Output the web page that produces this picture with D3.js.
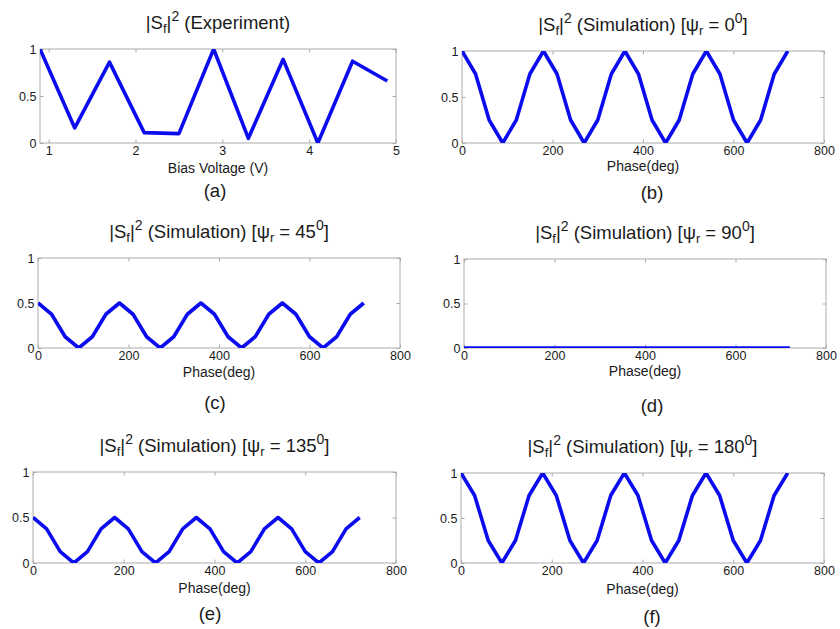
<!DOCTYPE html>
<html>
<head>
<meta charset="utf-8">
<script src="https://cdn.jsdelivr.net/npm/d3@7"></script>
<style>
  body { margin: 0; background: #fff; }
  text { font-family: "Liberation Sans", Arial, sans-serif; fill: #1a1a1a; }
</style>
</head>
<body>
<svg id="chart" width="840" height="629"></svg>
<script>
// data
var voltage = [0.9, 1.3, 1.7, 2.1, 2.5, 2.9, 3.3, 3.7, 4.1, 4.5, 4.9];
var experiment = [1.0, 0.16, 0.86, 0.11, 0.10, 1.0, 0.05, 0.89, 0.0, 0.87, 0.66];

var phase = [0, 30, 60, 90, 120, 150, 180, 210, 240, 270, 300, 330, 360,
             390, 420, 450, 480, 510, 540, 570, 600, 630, 660, 690, 720];
var sim0 = [1, 0.75, 0.25, 0, 0.25, 0.75, 1, 0.75, 0.25, 0, 0.25, 0.75, 1,
            0.75, 0.25, 0, 0.25, 0.75, 1, 0.75, 0.25, 0, 0.25, 0.75, 1];
var sim45 = [0.5, 0.375, 0.125, 0, 0.125, 0.375, 0.5, 0.375, 0.125, 0, 0.125, 0.375, 0.5,
             0.375, 0.125, 0, 0.125, 0.375, 0.5, 0.375, 0.125, 0, 0.125, 0.375, 0.5];
var sim90 = [0, 0, 0, 0, 0, 0, 0, 0, 0, 0, 0, 0, 0,
             0, 0, 0, 0, 0, 0, 0, 0, 0, 0, 0, 0];
var sim135 = [0.5, 0.375, 0.125, 0, 0.125, 0.375, 0.5, 0.375, 0.125, 0, 0.125, 0.375, 0.5,
              0.375, 0.125, 0, 0.125, 0.375, 0.5, 0.375, 0.125, 0, 0.125, 0.375, 0.5];
var sim180 = [1, 0.75, 0.25, 0, 0.25, 0.75, 1, 0.75, 0.25, 0, 0.25, 0.75, 1,
              0.75, 0.25, 0, 0.25, 0.75, 1, 0.75, 0.25, 0, 0.25, 0.75, 1];

var voltTicks = [1, 2, 3, 4, 5];
var phaseTicks = [0, 200, 400, 600, 800];
var yTicks = [0, 0.5, 1];
var psiLabels = ['0', '45', '90', '135', '180'];
var panelNames = ['(a)', '(b)', '(c)', '(d)', '(e)', '(f)'];

var svg = d3.select('#chart');
var lineColor = '#0b0bf0';
var boxColor = '#ababab';

// one entry per subplot: box corners + a few text offsets
var panels = [
  { x: voltage, y: experiment, xDomain: [0.9, 5], xTicks: voltTicks, xLabel: 'Bias Voltage (V)',
    l: 40, t: 49, r: 396, b: 143, labX: 215, labY: 197, axY: 30, title: null },
  { x: phase, y: sim0, xDomain: [0, 800], xTicks: phaseTicks, xLabel: 'Phase(deg)',
    l: 462, t: 51, r: 824, b: 143, labX: 652, labY: 199, axY: 28, title: psiLabels[0] },
  { x: phase, y: sim45, xDomain: [0, 800], xTicks: phaseTicks, xLabel: 'Phase(deg)',
    l: 38, t: 258, r: 400, b: 348, labX: 215, labY: 409, axY: 29, title: psiLabels[1] },
  { x: phase, y: sim90, xDomain: [0, 800], xTicks: phaseTicks, xLabel: 'Phase(deg)',
    l: 464, t: 259, r: 826, b: 348, labX: 652, labY: 412, axY: 28, title: psiLabels[2] },
  { x: phase, y: sim135, xDomain: [0, 800], xTicks: phaseTicks, xLabel: 'Phase(deg)',
    l: 33, t: 472, r: 396, b: 563, labX: 210, labY: 620, axY: 30, title: psiLabels[3] },
  { x: phase, y: sim180, xDomain: [0, 800], xTicks: phaseTicks, xLabel: 'Phase(deg)',
    l: 461, t: 473, r: 824, b: 563, labX: 652, labY: 623, axY: 31, title: psiLabels[4] }
];

panels.forEach(function (p, i) {
  var w = p.r - p.l, h = p.b - p.t;
  var g = svg.append('g').attr('transform', 'translate(' + p.l + ',' + p.t + ')');

  var x = d3.scaleLinear().domain(p.xDomain).range([0, w]);
  var y = d3.scaleLinear().domain([0, 1]).range([h, 0]);

  g.append('clipPath').attr('id', 'clip' + i)
    .append('rect').attr('width', w).attr('height', h);

  // axes, ticks pointing inward like matlab
  var fmt = function (d) { return d; };
  var ax = [
    g.append('g').attr('transform', 'translate(0,' + h + ')')
      .call(d3.axisBottom(x).tickValues(p.xTicks).tickSizeInner(-3.5).tickSizeOuter(0).tickPadding(3.5).tickFormat(fmt)),
    g.append('g')
      .call(d3.axisTop(x).tickValues(p.xTicks).tickSizeInner(-3.5).tickSizeOuter(0).tickFormat('')),
    g.append('g')
      .call(d3.axisLeft(y).tickValues(yTicks).tickSizeInner(-3.5).tickSizeOuter(0).tickPadding(3.5).tickFormat(fmt)),
    g.append('g').attr('transform', 'translate(' + w + ',0)')
      .call(d3.axisRight(y).tickValues(yTicks).tickSizeInner(-3.5).tickSizeOuter(0).tickFormat(''))
  ];
  ax.forEach(function (a) {
    a.select('.domain').remove();
    a.selectAll('line').attr('stroke', boxColor);
    a.selectAll('text').attr('font-size', 12.5).style('font-family', '"Liberation Sans", Arial, sans-serif').attr('fill', '#1a1a1a');
  });

  g.append('rect').attr('width', w).attr('height', h)
    .attr('fill', 'none').attr('stroke', boxColor).attr('stroke-width', 1);

  var line = d3.line()
    .x(function (d, k) { return x(p.x[k]); })
    .y(function (d) { return y(d); });

  g.append('path')
    .datum(p.y)
    .attr('clip-path', 'url(#clip' + i + ')')
    .attr('fill', 'none')
    .attr('stroke', lineColor)
    .attr('stroke-width', 3.6)
    .attr('stroke-linejoin', 'round')
    .attr('d', line);

  // title with sub/superscripts
  var tt = g.append('text')
    .attr('x', w / 2).attr('y', -20)
    .attr('text-anchor', 'middle')
    .attr('font-size', 18.5);
  tt.append('tspan').text('|S');
  tt.append('tspan').attr('font-size', 13).attr('dy', 4).text('f');
  tt.append('tspan').attr('dy', -4).text('|');
  tt.append('tspan').attr('font-size', 14).attr('dy', -8).text('2');
  if (p.title === null) {
    tt.append('tspan').attr('dy', 8).text(' (Experiment)');
  } else {
    tt.append('tspan').attr('dy', 8).text(' (Simulation) [\u03c8');
    tt.append('tspan').attr('font-size', 13).attr('dy', 4).text('r');
    tt.append('tspan').attr('dy', -4).text(' = ' + p.title);
    tt.append('tspan').attr('font-size', 14).attr('dy', -8).text('0');
    tt.append('tspan').attr('dy', 8).text(']');
  }

  g.append('text')
    .attr('x', w / 2).attr('y', h + p.axY)
    .attr('text-anchor', 'middle')
    .attr('font-size', 14)
    .text(p.xLabel);

  svg.append('text')
    .attr('x', p.labX).attr('y', p.labY)
    .attr('text-anchor', 'middle')
    .attr('font-size', 18.5)
    .text(panelNames[i]);
});
</script>
</body>
</html>
